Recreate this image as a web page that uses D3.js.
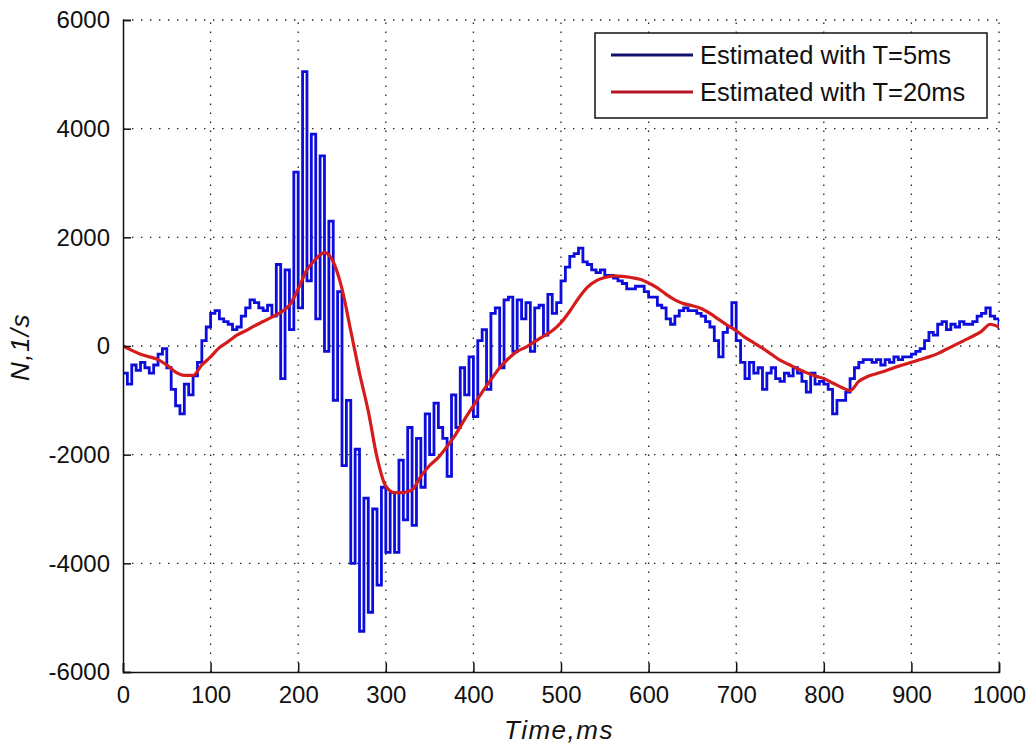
<!DOCTYPE html>
<html>
<head>
<meta charset="utf-8">
<script src="https://cdn.jsdelivr.net/npm/d3@7"></script>
<style>
  html, body { margin: 0; padding: 0; background: #fff; }
  svg { display: block; }
  text { font-family: "Liberation Sans", Arial, sans-serif; fill: #111; }
</style>
</head>
<body>
<svg id="chart" width="1034" height="751"></svg>
<script>
// Sample spacing of each estimate (ms)
const stepFine = 5;
const stepCoarse = 10;

// Rate estimated with T=5ms, one value every 5 ms from 0 to 1000 ms
const fineValues = [
  -500, -700, -350, -450, -300, -400, -500, -350, -150, -50,
  -400, -800, -1100, -1250, -700, -900, -550, -300, 100, 350,
  600, 650, 500, 450, 400, 300, 350, 550, 700, 850,
  800, 700, 650, 750, 550, 1500, -600, 1400, 300, 3200,
  700, 5050, 1200, 3900, 500, 3500, -100, 2300, -1000, 1000,
  -2200, -1000, -4000, -1900, -5250, -2800, -4900, -3000, -4400, -2600,
  -3800, -2700, -3800, -2100, -3200, -1500, -3300, -1700, -2600, -1250,
  -2000, -1050, -1500, -1700, -2400, -900, -1500, -400, -900, -200,
  -1300, 100, 300, -800, 600, 700, -400, 850, 900, -100,
  850, 500, 800, -100, 700, 750, 200, 950, 600, 800,
  1200, 1450, 1650, 1700, 1800, 1550, 1500, 1400, 1350, 1400,
  1300, 1300, 1250, 1200, 1150, 1050, 1050, 1100, 1100, 1000,
  900, 900, 750, 700, 500, 400, 550, 650, 700, 650,
  650, 600, 550, 450, 350, 100, -200, 250, 350, 800,
  100, -300, -600, -300, -500, -400, -800, -500, -400, -600,
  -650, -500, -550, -400, -500, -650, -850, -500, -700, -650,
  -700, -800, -1250, -1000, -1000, -850, -600, -400, -300, -250,
  -250, -300, -250, -350, -250, -300, -200, -250, -200, -200,
  -150, -100, -50, 100, 250, 200, 400, 450, 300, 400,
  350, 450, 400, 400, 450, 550, 600, 700, 550, 500,
  300
];

// Rate estimated with T=20ms, one value every 10 ms from 0 to 1000 ms
const coarseValues = [
  0, -80, -150, -200, -250, -350, -480, -540, -540, -350,
  -200, -30, 80, 200, 280, 370, 450, 530, 620, 750,
  1050, 1400, 1600, 1720, 1550, 1050, 280, -500, -1200, -2050,
  -2580, -2700, -2700, -2650, -2400, -2200, -2050, -1850, -1620, -1350,
  -1100, -850, -620, -400, -230, -100, -20, 80, 180, 280,
  430, 640, 880, 1080, 1200, 1260, 1290, 1280, 1260, 1230,
  1160, 1070, 950, 850, 780, 740, 690, 600, 490, 380,
  280, 160, 60, -40, -150, -260, -340, -420, -490, -550,
  -600, -680, -760, -820, -650, -560, -510, -460, -400, -350,
  -300, -250, -200, -140, -60, 20, 100, 180, 270, 400,
  350
];

const xTicks = [0, 100, 200, 300, 400, 500, 600, 700, 800, 900, 1000];
const yTicks = [-6000, -4000, -2000, 0, 2000, 4000, 6000];
const seriesNames = ["Estimated with T=5ms", "Estimated with T=20ms"];
const xTitle = "Time,ms";
const yTitle = "N,1/s";

const fine = fineValues.map((v, i) => ({ t: i * stepFine, v }));
const coarse = coarseValues.map((v, i) => ({ t: i * stepCoarse, v }));

const svg = d3.select("#chart");
const plotLeft = 123, plotRight = 999, plotTop = 20, plotBottom = 672;

const x = d3.scaleLinear().domain([0, 1000]).range([plotLeft, plotRight]);
const y = d3.scaleLinear().domain([-6000, 6000]).range([plotBottom, plotTop]);

const blue = "#0c0cdc";
const red = "#d41c1c";

// Dotted grid
const grid = svg.append("g")
  .attr("stroke", "#222")
  .attr("stroke-width", 1.3)
  .attr("stroke-dasharray", "1.4 7.6");
grid.selectAll("line.v").data(xTicks.filter(d => d > 0)).join("line")
  .attr("class", "v")
  .attr("x1", d => x(d)).attr("x2", d => x(d))
  .attr("y1", plotBottom).attr("y2", plotTop);
grid.selectAll("line.h").data(yTicks.filter(d => d > -6000)).join("line")
  .attr("class", "h")
  .attr("x1", plotLeft).attr("x2", plotRight)
  .attr("y1", d => y(d)).attr("y2", d => y(d));

// Curves
svg.append("clipPath").attr("id", "plotClip")
  .append("rect").attr("x", plotLeft).attr("y", plotTop)
  .attr("width", plotRight - plotLeft).attr("height", plotBottom - plotTop);

const plot = svg.append("g").attr("clip-path", "url(#plotClip)");

plot.append("path")
  .datum(fine)
  .attr("fill", "none")
  .attr("stroke", blue)
  .attr("stroke-width", 2.8)
  .attr("stroke-linejoin", "miter")
  .attr("d", d3.line().x(d => x(d.t)).y(d => y(d.v)).curve(d3.curveStepAfter));

plot.append("path")
  .datum(coarse)
  .attr("fill", "none")
  .attr("stroke", red)
  .attr("stroke-width", 3.2)
  .attr("stroke-linejoin", "round")
  .attr("d", d3.line().x(d => x(d.t)).y(d => y(d.v)).curve(d3.curveMonotoneX));

// Axes with inward ticks; labels use a plain hyphen for negatives
const xAxis = d3.axisBottom(x).tickValues(xTicks).tickSize(-9).tickPadding(14).tickFormat(d => String(d));
const yAxis = d3.axisLeft(y).tickValues(yTicks).tickSize(-8).tickPadding(13).tickFormat(d => String(d));

const gx = svg.append("g").attr("transform", `translate(0,${plotBottom})`).call(xAxis);
const gy = svg.append("g").attr("transform", `translate(${plotLeft},0)`).call(yAxis);

[gx, gy].forEach(g => {
  g.select(".domain").attr("stroke", "#111").attr("stroke-width", 1.5);
  g.selectAll(".tick line").attr("stroke", "#111").attr("stroke-width", 1.5);
  g.selectAll(".tick text")
    .style("font-family", '"Liberation Sans", Arial, sans-serif')
    .style("font-size", "24px")
    .attr("fill", "#111");
});
gx.selectAll(".tick text").attr("dy", "0.71em");

// Axis titles
svg.append("text")
  .attr("x", 559).attr("y", 739)
  .attr("text-anchor", "middle")
  .style("font-size", "26px")
  .style("letter-spacing", "1.5px")
  .style("font-style", "italic")
  .text(xTitle);

svg.append("text")
  .attr("transform", "translate(29,347) rotate(-90)")
  .attr("text-anchor", "middle")
  .style("font-size", "26px")
  .style("letter-spacing", "1.5px")
  .style("font-style", "italic")
  .text(yTitle);

// Legend
const legend = svg.append("g");
legend.append("rect")
  .attr("x", 595).attr("y", 33)
  .attr("width", 392).attr("height", 85)
  .attr("fill", "#fff")
  .attr("stroke", "#111")
  .attr("stroke-width", 1.5);

const rows = [
  { name: seriesNames[0], color: "#101070", w: 2.8, cy: 55 },
  { name: seriesNames[1], color: "#b81428", w: 3.2, cy: 92 }
];
rows.forEach(r => {
  legend.append("line")
    .attr("x1", 611).attr("x2", 693)
    .attr("y1", r.cy).attr("y2", r.cy)
    .attr("stroke", r.color).attr("stroke-width", r.w);
  legend.append("text")
    .attr("x", 700).attr("y", r.cy + 9)
    .style("font-size", "25.5px")
    .text(r.name);
});
</script>
</body>
</html>
